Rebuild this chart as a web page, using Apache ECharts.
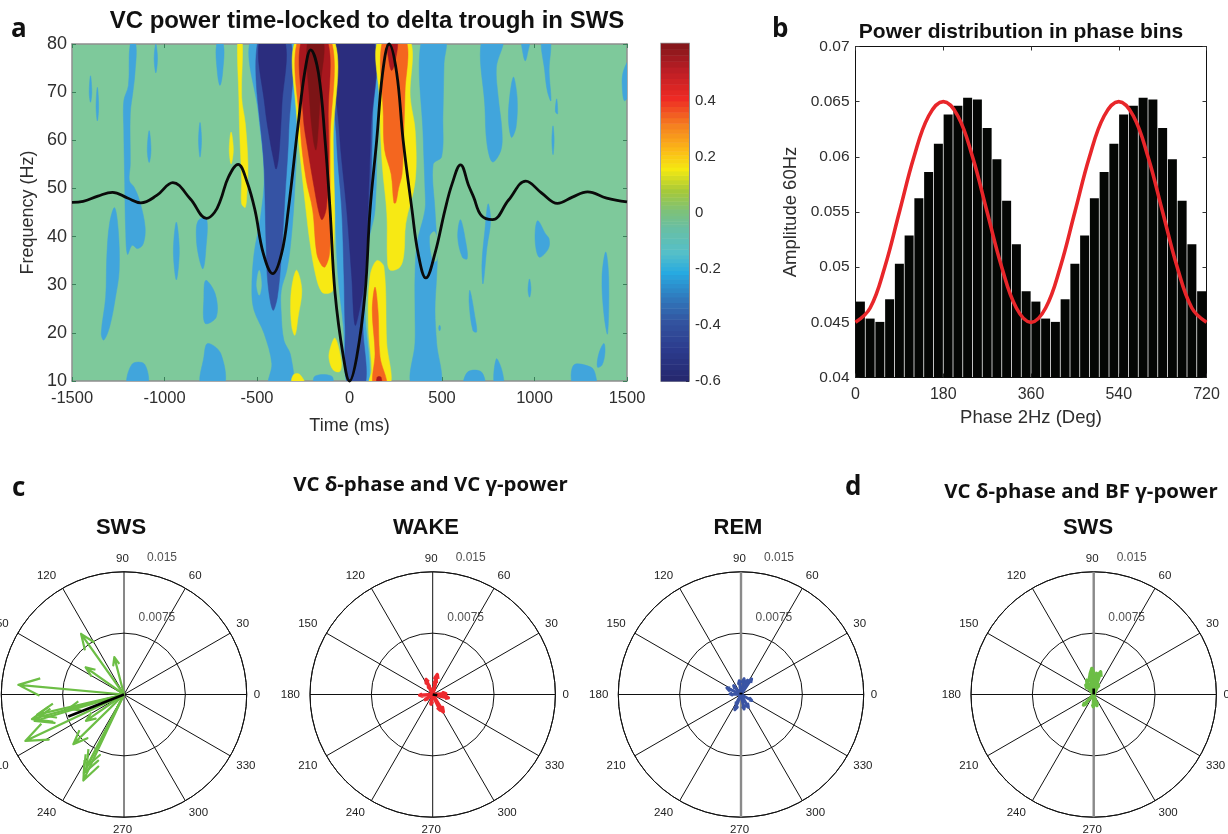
<!DOCTYPE html>
<html><head><meta charset="utf-8">
<style>html,body{margin:0;padding:0;background:#fff}#c{width:1228px;height:834px;filter:blur(0.35px)}</style>
<script src="https://cdn.jsdelivr.net/npm/echarts@6/dist/echarts.min.js"></script>
</head><body><div id="c"></div>
<script>
// ---------- panel a: contour regions, [time ms, frequency Hz] ----------
const lightBlueBlobs = [
 [[-1185,80],[-1155,80],[-1160,73.8],[-1170,70.3],[-1185,65.5],[-1185,55],[-1190,51.6],[-1165,50.3],[-1135,47.5],[-1105,42],[-1115,38.5],[-1145,37.5],[-1175,38.2],[-1200,36.3],[-1210,41.3],[-1215,51],[-1220,62],[-1220,68.2],[-1195,71.4]],
 [[-1270,46],[-1250,41.3],[-1245,33],[-1265,27.4],[-1297,21.2],[-1328,18.5],[-1342,19.8],[-1318,27.4],[-1312,35.7],[-1297,42.7]],
 [[-1400,73.4],[-1393,70],[-1400,67.9],[-1407,70]],
 [[-1363,71],[-1356,67],[-1363,64],[-1370,67]],
 [[-1047,80],[-1038,77],[-1047,74],[-1056,77]],
 [[-1083,62],[-1073,58],[-1083,55.4],[-1093,58]],
 [[-808,63.7],[-800,60],[-808,56.5],[-816,60]],
 [[-936,43],[-920,37],[-936,31],[-952,37]],
 [[-718,80],[-682,80],[-686,74],[-700,71.4],[-714,74]],
 [[-773,43.8],[-777,37.1],[-792,33.3],[-814,35.7],[-828,39.9],[-818,43.3]],
 [[-777,30.9],[-726,28.1],[-720,23.3],[-781,22],[-787,27.4]],
 [[-767,17.8],[-696,15.7],[-679,9],[-802,9],[-787,15]],
 [[-1175,13.5],[-1108,13.5],[-1093,9],[-1200,9]],
 [[-532,81],[-492,65.5],[-461,53],[-481,44],[-516,36.4],[-528,28.8],[-516,24.7],[-461,19.8],[-420,13.6],[-435,9],[-312,9],[-318,15.3],[-355,18.5],[-369,24],[-369,28.8],[-339,33],[-318,38.5],[-298,48.2],[-284,62],[-298,68.9],[-314,81]],
 [[-96,81],[-90,60],[-78,45.5],[-62,31.7],[-33,21.3],[-8,9],[101,9],[84,24.7],[102,38.6],[138,45.5],[150,65],[155,81]],
 [[390,81],[516,81],[511,76],[505,65],[498,56.6],[452,55],[462,45.5],[471,40],[475,36],[471,31.7],[462,24.7],[471,17.9],[489,9],[336,9],[354,17.9],[354,24.7],[354,31.7],[365,38.6],[408,45.5],[408,50],[399,60]],
 [[716,81],[828,81],[794,75.2],[804,68.9],[824,62],[818,57.9],[773,55.5],[743,59.3],[732,66.9]],
 [[885,73.1],[906,68.9],[900,62.7],[875,60.6],[859,65.4]],
 [[932,81],[973,81],[962,78],[950,76.5],[938,78]],
 [[1038,81],[1085,81],[1079,74.5],[1089,68.2],[1069,70.3],[1055,74.5]],
 [[1120,68.6],[1125,65.5],[1113,66]],
 [[1100,63],[1106,60],[1100,57],[1094,60]],
 [[600,43.5],[630,38.5],[636,35.4],[610,35.7],[585,39.9]],
 [[763,43.3],[743,37.8],[722,30.2],[716,34.4],[732,41.3],[749,46.8]],
 [[1018,43.3],[1059,40.6],[1079,39.5],[1075,37.5],[1028,35.7],[1008,37.5],[1004,41.3]],
 [[1385,36.8],[1401,31.6],[1395,19.8],[1375,24],[1365,31.6]],
 [[973,31.2],[981,29],[973,27.4],[965,29]],
 [[651,28.8],[681,22.6],[687,20.2],[667,20.5],[647,26]],
 [[487,21.6],[492,21],[487,20.4],[482,21]],
 [[1375,17.8],[1381,16],[1365,13.3],[1340,12.9],[1348,15.7]],
 [[640,11.9],[712,11.9],[728,9],[620,9]],
 [[794,14.6],[824,12.2],[830,9],[783,9]],
 [[1212,13.3],[1304,12.9],[1328,11.5],[1328,9],[1212,9]],
 [[1510,76.5],[1477,73.8],[1477,69.6],[1487,68.2],[1510,69.6]],
 [[-187,11],[-96,11],[-96,9],[-187,9]]
];
const greenHoleBlobs = [
 [[-488,33],[-476,30],[-488,27.8],[-502,30]],
 [[435,40],[460,41],[480,38],[470,35],[450,35]]
];
const midBlueBlobs = [
 [[-494,81],[-461,53.7],[-451,38.5],[-441,30.2],[-414,24.7],[-390,27.4],[-369,35.7],[-349,48.2],[-328,62],[-322,81]],
 [[-78,81],[-70,60],[-42,45.5],[-30,32],[-24,21.3],[-8,9],[84,9],[73,21.3],[84,31.7],[111,45.5],[125,65],[132,81]]
];
const darkBlueBlobs = [
 [[-484,81],[-457,67],[-430,60],[-410,56],[-397,54],[-385,56],[-376,60],[-366,67],[-352,81]],
 [[-69,81],[-55,62],[-15,45.5],[12,31.7],[30,21.6],[55,25],[84,31.7],[100,45.5],[115,62],[127,81]]
];
const yellowBlobs = [
 [[-604,81],[-580,81],[-583,68.9],[-563,63.4],[-549,55.1],[-553,50.3],[-563,46.1],[-583,46.8],[-583,51.6],[-594,62],[-598,68.9]],
 [[-640,61.7],[-628,58],[-640,55.1],[-650,58]],
 [[-289,81],[-285,65],[-262,55],[-235,45.5],[-213,38.6],[-181,31.7],[-150,28.5],[-116,28.2],[-89,28.9],[-84,38],[-80,45],[-88,60],[-84,81]],
 [[157,81],[161,69],[177,55],[202,44.7],[206,34.4],[222,33],[273,33.7],[294,36.4],[304,42.7],[355,51.6],[355,62],[328,69],[324,81]],
 [[147,35],[111,31.7],[102,21.3],[120,12.3],[107,9],[219,9],[201,17.9],[186,33.7]],
 [[-285,33],[-258,28.9],[-278,23.3],[-295,19.5],[-312,21.3],[-318,26.8],[-305,31]],
 [[-78,18.9],[-46,14.4],[-51,12],[-88,12.3],[-111,14.8],[-102,17]],
 [[-305,11.2],[-270,11.4],[-240,9],[-310,9]]
];
const orangeBlobs = [
 [[-278,81],[-265,62],[-235,52],[-199,45.5],[-177,36.5],[-150,34],[-132,33.7],[-108,36.5],[-105,45.5],[-105,60],[-101,81]],
 [[181,81],[183,65],[190,58],[225,53],[240,47],[250,47],[265,50],[284,53],[292,60],[300,70],[304,81]],
 [[138,29.5],[123,24.7],[138,15.8],[129,9],[201,9],[165,15],[154,24.7]]
];
const redBlobs = [
 [[-258,81],[-250,65],[-225,58],[-190,50],[-165,45],[-148,43.5],[-125,46],[-112,55],[-115,65],[-122,81]],
 [[205,81],[215,76],[228,74.5],[245,76],[257,81]],
 [[150,10.8],[170,10.8],[172,9],[148,9]]
];
const darkRedBlobs = [
 [[-224,81],[-215,68],[-195,60],[-181,58],[-168,63],[-155,72],[-143,81]]
];
const deltaTroughTrace = [
 [-1500,47.1],[-1440,47.3],[-1360,48.4],[-1281,49.2],[-1200,48],[-1128,47],[-1040,48.6],[-955,51.2],[-860,47.8],[-773,43.8],[-730,45],[-696,47.7],[-655,52.3],[-602,55],
 [-555,51.5],[-511,45.5],[-466,36.5],[-415,32.3],[-367,36.5],[-331,45.5],[-277,63.5],[-240,74.6],[-210,78.8],[-168,74],[-132,60],[-105,45.5],[-78,28.2],[-33,15],[0,10],
 [39,15],[84,28.2],[111,45.5],[147,60],[179,74],[214,80],[255,74],[290,60],[338,45.5],[371,36.5],[413,31.4],[462,36.5],[516,45.5],[555,51],[600,54.9],
 [645,50.5],[671,48.2],[712,44.4],[773,43.5],[860,47.6],[953,51.5],[1040,49],[1124,46.9],[1205,48.2],[1287,49.3],[1390,48],[1500,47.2]
];

// ---------- colour bar ----------
const colourBarStops = [
 [-0.6,'#26296f'],[-0.5,'#2b3a8c'],[-0.4,'#33539f'],[-0.3,'#2f7fc1'],[-0.22,'#27aae1'],[-0.15,'#55bfc8'],[-0.05,'#6cbf9e'],
 [0,'#7dc17a'],[0.07,'#a5c93a'],[0.15,'#f5e911'],[0.22,'#fbb817'],[0.3,'#f58220'],[0.4,'#ee2a24'],[0.5,'#bb1e25'],[0.605,'#7a1518']
];
const colourBarTicks = [-0.6,-0.4,-0.2,0,0.2,0.4];

// ---------- panel b ----------
const phaseBinCentres = [10,30,50,70,90,110,130,150,170,190,210,230,250,270,290,310,330,350,370,390,410,430,450,470,490,510,530,550,570,590,610,630,650,670,690,710];
const binAmplitude = [.04688,.04534,.04504,.04709,.05032,.05286,.05624,.05862,.06119,.06384,.06463,.06535,.0652,.06261,.05977,.05603,.05207,.04782,
                      .04688,.04534,.04504,.04709,.05032,.05286,.05624,.05862,.06119,.06384,.06463,.06535,.0652,.06261,.05977,.05603,.05207,.04782];
const redPhase = [0,30,60,90,120,150,180,210,240,270,300,330,360,390,420,450,480,510,540,570,600,630,660,690,720];
const redAmplitude = [.045,.0463,.05,.055,.06,.0637,.065,.0637,.06,.055,.05,.0463,.045,.0463,.05,.055,.06,.0637,.065,.0637,.06,.055,.05,.0463,.045];

// ---------- polar panels, [length, angle deg] ----------
const vcSwsArrows = [[.01297,174.8],[.00909,125.3],[.00472,104.5],[.00574,144.8],[.01165,195],[.01140,196.5],[.01090,193],[.00703,194.4],[.01333,205.2],[.00867,224.4],[.00566,214.7],[.01163,244.7],[.0108,243],[.0099,242.6]];
const vcSwsMean = [[.00733,201.6]];
const wakeArrows = [[.0025,77],[.002,114],[.0016,183],[.00196,348],[.00248,301.6],[.0021,295],[.0016,4],[.00126,115],[.0018,77],[.0012,260],[.0011,215]];
const wakeMean = [[.00057,350]];
const remArrows = [[.0023,55.7],[.00195,79],[.0017,97],[.0019,155],[.00135,177],[.002,248],[.0018,282],[.0015,331],[.0018,300],[.0014,130],[.0019,65.5],[.0013,242]];
const remMean = [[.00022,90]];
const bfSwsArrows = [[.0032,94],[.0029,73],[.00195,116],[.0018,226],[.0014,286],[.0015,268],[.0026,82],[.0024,101],[.0013,63],[.0015,130]];
const bfSwsMean = [[.00073,90]];
const verticalSpoke = [[.015,90],[.015,270]];
const radiusTicks = [0.0075,0.015];

// ---------- styling / layout ----------
const FONT = '"Liberation Sans", Arial, sans-serif';
const HEAD = '"Open Sans", "Noto Sans", sans-serif';
const TXT = '#2e2e2e';
const grids = [
 {left:72,top:44,width:555,height:337,show:true,backgroundColor:'#7ec99b',borderWidth:0},
 {left:661,top:43.5,width:28,height:337.5,show:true,borderColor:'#8f8f8f',borderWidth:1.5},
 {left:855.5,top:46.5,width:351,height:331}
];
function blobs(list,colour){
  return {type:'custom',coordinateSystem:'cartesian2d',xAxisIndex:0,yAxisIndex:0,clip:true,silent:true,z:2,
    data:list.map((b,i)=>[i,0]),
    renderItem:(p,api)=>({type:'polygon',shape:{points:list[api.value(0)].map(q=>api.coord(q)),smooth:0.35},style:{fill:colour,stroke:colour,lineWidth:0.5}})};
}
function arrows(list,polarIndex,colour,w,z){
  return {type:'custom',coordinateSystem:'polar',polarIndex,silent:true,z:z||3,data:list,
    renderItem:(p,api)=>{
      const L=api.value(0),a=api.value(1);
      const o=api.coord([0,a]),t=api.coord([L,a]);
      const b1=api.coord([L*0.804,a+5.71]),b2=api.coord([L*0.804,a-5.71]);
      return {type:'polyline',shape:{points:[o,t,b1,t,b2]},style:{fill:null,stroke:colour,lineWidth:w,lineJoin:'round'}};
    }};
}
function mean(list,polarIndex,w,colour,z){
  return {type:'custom',coordinateSystem:'polar',polarIndex,silent:true,z:z||4,data:list,
    renderItem:(p,api)=>{const L=api.value(0),a=api.value(1);
      return {type:'line',shape:{x1:api.coord([0,a])[0],y1:api.coord([0,a])[1],x2:api.coord([L,a])[0],y2:api.coord([L,a])[1]},style:{stroke:colour||'#000',lineWidth:w}};}};
}
function radialLabels(polarIndex){
  return {type:'scatter',coordinateSystem:'polar',polarIndex,symbolSize:0,silent:true,clip:false,z:5,
    data:[[.01018,66.7],[.01738,74.5]],
    label:{show:true,position:'inside',color:'#222',fontFamily:FONT,fontSize:12,formatter:p=>String(radiusTicks[p.dataIndex])}};
}
const polarCentres = [[124,694.5],[432.7,694.5],[741,694.5],[1093.7,694.5]];
const polarAngle = i=>({polarIndex:i,min:0,max:360,interval:30,startAngle:0,clockwise:false,
  axisLine:{show:true,lineStyle:{color:'#111',width:1}},axisTick:{show:false},
  splitLine:{show:true,lineStyle:{color:'#111',width:1}},
  axisLabel:{show:true,margin:7,align:'center',verticalAlign:'middle',padding:[0,3,0,0],color:'#222',fontFamily:FONT,fontSize:11.5,formatter:v=>v===360?'':String(v)}});
const polarRadius = i=>({polarIndex:i,min:0,max:.015,interval:.0075,
  axisLine:{show:false},axisTick:{show:false},axisLabel:{show:false},
  splitLine:{show:true,lineStyle:{color:'#111',width:1}}});

const boxX=(grid,pos,extra)=>Object.assign({type:'value',gridIndex:grid,position:pos,axisLine:{show:true,onZero:false,lineStyle:{color:grid===0?'#8f8f8f':'#111',width:grid===0?1.5:1}},
  axisTick:{show:true,inside:true,length:4,lineStyle:{color:grid===0?'#3c7f5a':'#333'}},splitLine:{show:false},axisLabel:{show:false}},extra);
const tickFont={show:true,color:TXT,fontFamily:FONT,formatter:v=>String(v)};
const letter=(t,x,y)=>({text:t,left:x,top:y,textStyle:{fontFamily:HEAD,fontSize:26,fontWeight:'bold',color:'#111'}});
const boldTitle=(t,x,y,s,f)=>({text:t,left:x,top:y,textAlign:'center',textStyle:{fontFamily:f||FONT,fontSize:s,fontWeight:'bold',color:'#111'}});

const option = {
 animation:false,
 backgroundColor:'#fff',
 title:[
  letter('a',6,12),letter('b',767,12),letter('c',7,471),letter('d',840,470),
  boldTitle('VC power time-locked to delta trough in SWS',362,4,24),
  boldTitle('Power distribution in phase bins',1016,17,21),
  boldTitle('VC δ-phase and VC γ-power',425.5,470,20.4,HEAD),
  boldTitle('VC δ-phase and BF γ-power',1076,477,20.4,HEAD),
  boldTitle('SWS',116,512,22),boldTitle('WAKE',421,512,22),boldTitle('REM',733,512,22),boldTitle('SWS',1083,512,22)
 ],
 grid:grids,
 xAxis:[
  boxX(0,'bottom',{min:-1500,max:1500,interval:500,axisLabel:Object.assign({},tickFont,{fontSize:16.5,margin:9}),name:'Time (ms)',nameLocation:'middle',nameGap:36,nameTextStyle:{fontFamily:FONT,fontSize:18,color:TXT}}),
  boxX(0,'top',{min:-1500,max:1500,interval:500}),
  {type:'value',gridIndex:1,min:0,max:1,show:false},
  boxX(2,'bottom',{min:0,max:720,interval:180,axisLabel:Object.assign({},tickFont,{fontSize:16,margin:9}),name:'Phase 2Hz (Deg)',nameLocation:'middle',nameGap:31,nameTextStyle:{fontFamily:FONT,fontSize:18.5,color:TXT}}),
  boxX(2,'top',{min:0,max:720,interval:180})
 ],
 yAxis:[
  boxX(0,'left',{min:10,max:80,interval:10,axisLabel:Object.assign({},tickFont,{fontSize:18,margin:5}),name:'Frequency (Hz)',nameLocation:'middle',nameGap:35,nameTextStyle:{fontFamily:FONT,fontSize:18,color:TXT}}),
  boxX(0,'right',{min:10,max:80,interval:10}),
  {type:'value',gridIndex:1,min:-0.6,max:0.605,position:'right',
    axisLine:{show:true,onZero:false,lineStyle:{color:'#8f8f8f',width:1}},splitLine:{show:false},
    axisTick:{show:true,inside:true,length:3,customValues:colourBarTicks,lineStyle:{color:'#333'}},
    axisLabel:{show:true,color:TXT,fontFamily:FONT,fontSize:15,margin:6,customValues:colourBarTicks,formatter:v=>String(Math.round(v*10)/10)}},
  boxX(2,'left',{min:.04,max:.07,interval:.005,axisLabel:Object.assign({},tickFont,{fontSize:15.5,margin:6,formatter:v=>String(+v.toFixed(3))}),name:'Amplitude 60Hz',nameLocation:'middle',nameGap:55,nameTextStyle:{fontFamily:FONT,fontSize:18.5,color:TXT}}),
  boxX(2,'right',{min:.04,max:.07,interval:.005})
 ],
 polar:polarCentres.map(c=>({center:c,radius:122.7})),
 angleAxis:[0,1,2,3].map(polarAngle),
 radiusAxis:[0,1,2,3].map(polarRadius),
 series:[
  blobs(lightBlueBlobs,'#41a5dc'),
  blobs(greenHoleBlobs,'#7ec99b'),
  blobs(midBlueBlobs,'#3553a4'),
  blobs(darkBlueBlobs,'#2b2d7e'),
  blobs(yellowBlobs,'#f7e914'),
  blobs(orangeBlobs,'#f4661f'),
  blobs(redBlobs,'#a8171e'),
  blobs(darkRedBlobs,'#7c1416'),
  {type:'line',xAxisIndex:0,yAxisIndex:0,data:deltaTroughTrace,smooth:0.4,showSymbol:false,clip:false,z:4,silent:true,lineStyle:{color:'#0a0a0a',width:2.8}},
  {type:'custom',coordinateSystem:'cartesian2d',xAxisIndex:2,yAxisIndex:2,silent:true,
    data:colourBarStops.slice(0,-1).map((s,i)=>[0,i]),
    renderItem:(p,api)=>{
      const i=api.value(1),n=5,els=[];
      const a=colourBarStops[i],b=colourBarStops[i+1];
      for(let k=0;k<n;k++){
        const lo=a[0]+(b[0]-a[0])*k/n,hi=a[0]+(b[0]-a[0])*(k+1)/n;
        const p0=api.coord([0,hi]),p1=api.coord([1,lo]);
        els.push({type:'rect',shape:{x:p0[0],y:p0[1],width:p1[0]-p0[0],height:p1[1]-p0[1]+0.5},
          style:{fill:echarts.color.lerp(k/n,[a[1],b[1]])}});
      }
      return {type:'group',children:els};
    }},
  {type:'bar',xAxisIndex:3,yAxisIndex:3,barWidth:9,itemStyle:{color:'#040604'},z:2,silent:true,
    data:phaseBinCentres.map((x,i)=>[x,binAmplitude[i]])},
  {type:'line',xAxisIndex:3,yAxisIndex:3,smooth:0.4,showSymbol:false,z:5,silent:true,lineStyle:{color:'#e8262a',width:3.6},
    data:redPhase.map((x,i)=>[x,redAmplitude[i]])},
  mean(verticalSpoke,2,2.4,'#8a8a8a',2), mean(verticalSpoke,3,2.4,'#8a8a8a',2),
  arrows(vcSwsArrows,0,'#6cbe45',2.2), mean(vcSwsMean,0,2.6), radialLabels(0),
  arrows(wakeArrows,1,'#ee2a2f',3.4), mean(wakeMean,1,2.6), radialLabels(1),
  arrows(remArrows,2,'#3a54a4',3), mean(remMean,2,3), radialLabels(2),
  arrows(bfSwsArrows,3,'#6cbe45',3.4), mean(bfSwsMean,3,2.6), radialLabels(3)
 ]
};
const chart = echarts.init(document.getElementById('c'),null,{renderer:'canvas',width:1228,height:834});
chart.setOption(option);
</script></body></html>
